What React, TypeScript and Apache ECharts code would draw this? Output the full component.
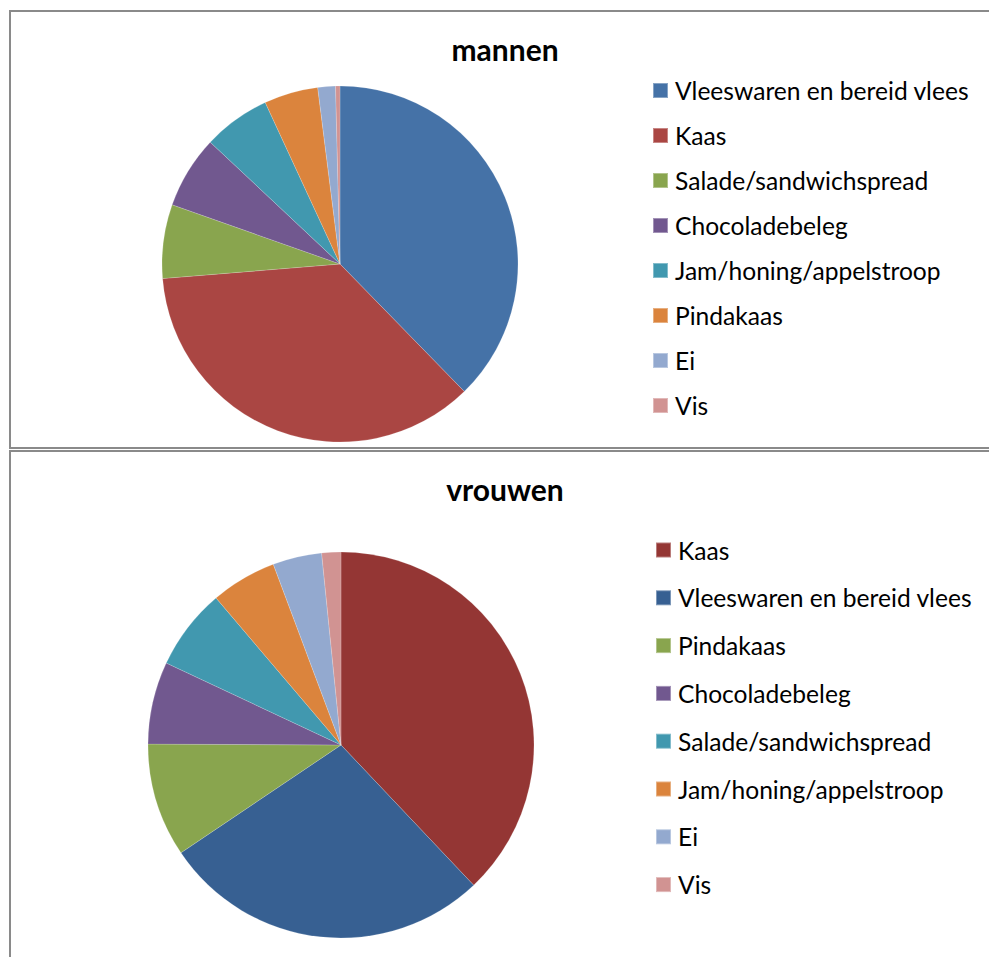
import React, { useEffect, useRef } from "react";
import * as echarts from "echarts";

const menNames = [
  "Vleeswaren en bereid vlees",
  "Kaas",
  "Salade/sandwichspread",
  "Chocoladebeleg",
  "Jam/honing/appelstroop",
  "Pindakaas",
  "Ei",
  "Vis",
];
const menValues = [37.7, 36.0, 6.7, 6.6, 6.1, 4.9, 1.6, 0.4];
const menColors = ["#4572A7", "#AA4643", "#89A54E", "#71588F", "#4198AF", "#DB843D", "#93A9CF", "#D19392"];

const womenNames = [
  "Kaas",
  "Vleeswaren en bereid vlees",
  "Pindakaas",
  "Chocoladebeleg",
  "Salade/sandwichspread",
  "Jam/honing/appelstroop",
  "Ei",
  "Vis",
];
const womenValues = [37.9, 27.6, 9.5, 6.9, 6.8, 5.5, 4.1, 1.6];
const womenColors = ["#943634", "#376092", "#89A54E", "#71588F", "#4198AF", "#DB843D", "#93A9CF", "#D19392"];

const FONT = "Lato, Carlito, Calibri, 'Open Sans', sans-serif";

function buildOption(
  title: string,
  names: string[],
  values: number[],
  colors: string[],
  center: [number, number],
  radius: number,
  legendLeft: number,
  legendTop: number,
  legendGap: number
) {
  return {
    animation: false,
    backgroundColor: "#ffffff",
    title: {
      text: title,
      left: 494,
      top: 22,
      padding: 0,
      textAlign: "center",
      textStyle: { fontFamily: FONT, fontSize: 30, fontWeight: "bold", color: "#000000" },
    },
    legend: {
      orient: "vertical",
      left: legendLeft,
      top: legendTop,
      padding: 0,
      icon: "rect",
      itemWidth: 15,
      itemHeight: 15,
      itemGap: legendGap,
      selectedMode: false,
      data: names,
      textStyle: {
        fontFamily: FONT,
        fontSize: 24.6,
        lineHeight: 23,
        color: "#000000",
        padding: [0, 0, 0, 2],
      },
    },
    series: [
      {
        type: "pie",
        center: center,
        radius: radius,
        startAngle: 90,
        clockwise: true,
        silent: true,
        label: { show: false },
        labelLine: { show: false },
        emphasis: { disabled: true },
        itemStyle: { borderColor: "rgba(255,255,255,0.35)", borderWidth: 0.5 },
        data: names.map((n, i) => ({ name: n, value: values[i], itemStyle: { color: colors[i] } })),
      },
    ],
  };
}

function ChartBox(props: { top: number; height: number; option: any }) {
  const ref = useRef<HTMLDivElement>(null);
  useEffect(() => {
    if (!ref.current) return;
    const chart = echarts.init(ref.current, undefined, { renderer: "svg" });
    chart.setOption(props.option);
    return () => chart.dispose();
  }, []);
  return (
    <div
      style={{
        position: "absolute",
        left: 9,
        top: props.top,
        width: 1000,
        height: props.height,
        border: "2px solid #8a8a8a",
        boxSizing: "border-box",
        background: "#fff",
      }}
    >
      <div ref={ref} style={{ width: 996, height: props.height - 4 }} />
    </div>
  );
}

export default function App() {
  const topOpt = buildOption("mannen", menNames, menValues, menColors, [329, 252], 178, 641, 66, 20);
  const botOpt = buildOption("vrouwen", womenNames, womenValues, womenColors, [330, 293], 193, 644, 85.5, 22.8);
  return (
    <div
      style={{
        position: "fixed",
        left: 0,
        top: 0,
        width: 989,
        height: 957,
        overflow: "hidden",
        background: "#fff",
      }}
    >
      <ChartBox top={10} height={439} option={topOpt} />
      <ChartBox top={450} height={520} option={botOpt} />
    </div>
  );
}
